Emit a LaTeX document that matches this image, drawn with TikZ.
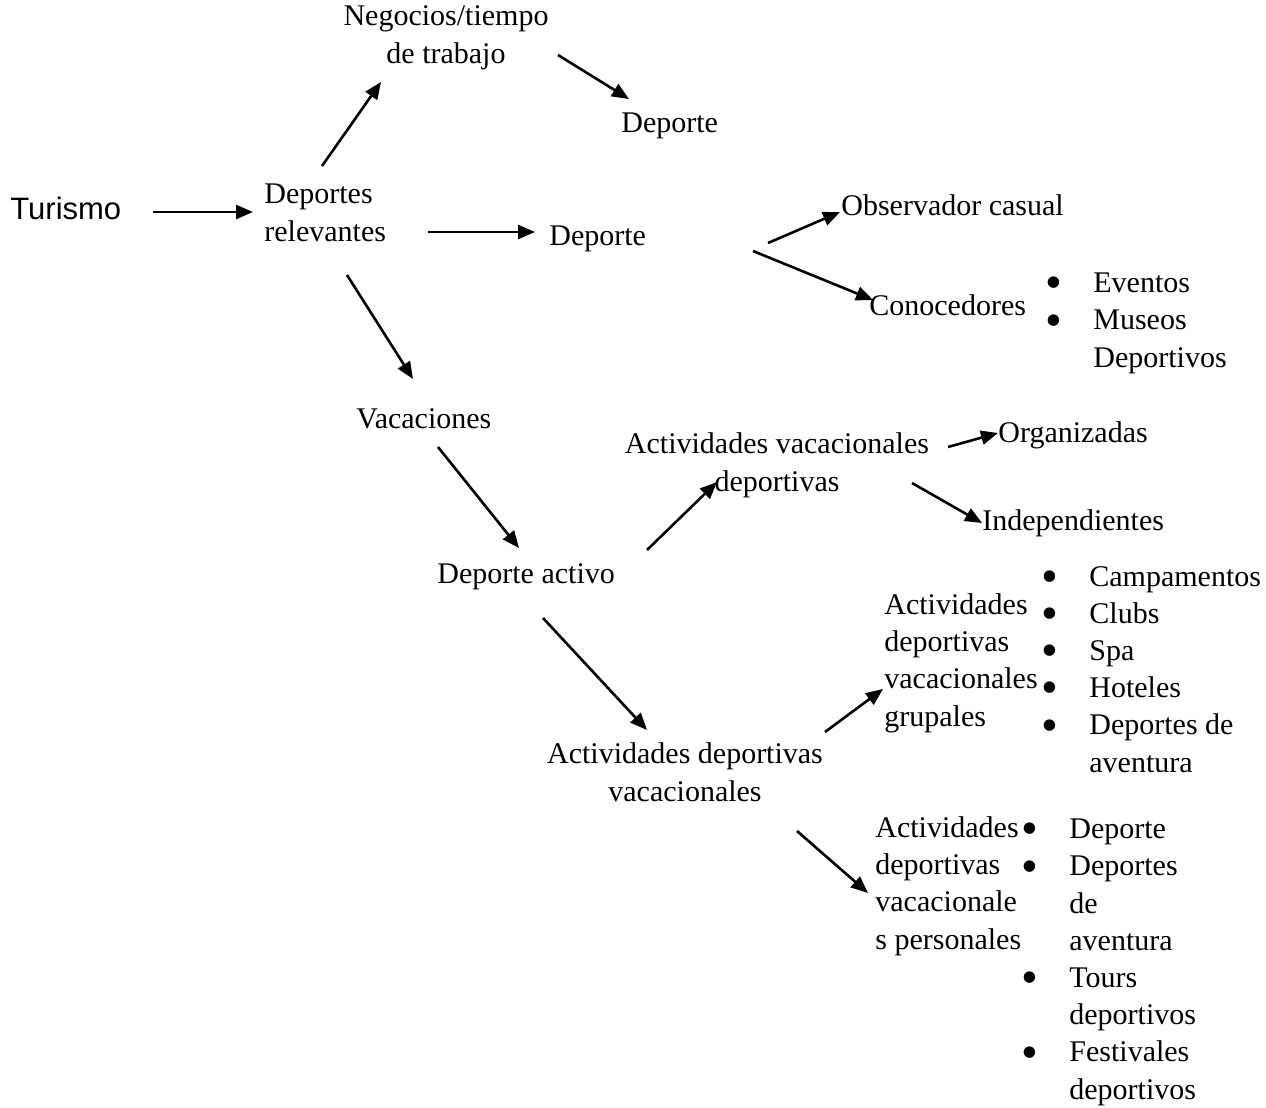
\documentclass[tikz,border=0pt]{standalone}
\usepackage{fontspec}
\setmainfont{Liberation Serif}
\newfontfamily\turfont{Liberation Sans}
\usetikzlibrary{arrows.meta}
\newcommand{\bul}{\makebox[24pt][l]{\raisebox{-3.1pt}{\scalebox{1.6}{\textbullet}}}}
\newcommand{\nobul}{\hspace*{24pt}}
\begin{document}
\begin{tikzpicture}[x=0.5pt,y=-0.5pt,font=\fontsize{15}{18.6}\selectfont,
  lbl/.style={inner sep=0pt,anchor=base west,align=left},
  ctr/.style={inner sep=0pt,anchor=base,align=center},
  arr/.style={line width=1.3pt,-{Triangle[length=8.5pt,width=7pt]}}]
  \useasboundingbox (0,0) rectangle (1266,1108);
  % first level
  \node[lbl,font=\turfont\fontsize{15.5}{18}\selectfont] (tur) at (10,219){Turismo};
  \node[lbl] (rel) at (264,241){Deportes\\relevantes};
  \node[ctr] (neg) at (446,63){Negocios/tiempo\\de trabajo};
  \node[lbl] (dtop) at (621,133){Deporte};
  \node[lbl] (dmid) at (549,245){Deporte};
  \node[lbl] (vac) at (356,428){Vacaciones};
  % spectator branch
  \node[lbl] (obs) at (841,215){Observador casual};
  \node[lbl] (con) at (869,315){Conocedores};
  \node[lbl] (conlist) at (1045,367){\bul Eventos\\\bul Museos\\\nobul Deportivos};
  % active branch
  \node[lbl] (act) at (437,583){Deporte activo};
  \node[ctr] (avd) at (777,491){Actividades vacacionales\\deportivas};
  \node[lbl] (org) at (998,442){Organizadas};
  \node[lbl] (ind) at (982,530){Independientes};
  \node[ctr] (adv) at (685,801){Actividades deportivas\\vacacionales};
  \node[lbl] (grp) at (884,726){Actividades\\deportivas\\vacacionales\\grupales};
  \node[lbl] (grplist) at (1041,772){\bul Campamentos\\\bul Clubs\\\bul Spa\\\bul Hoteles\\\bul Deportes de\\\nobul aventura};
  \node[lbl] (per) at (875,949){Actividades\\deportivas\\vacacionale\\s personales};
  \node[lbl] (perlist) at (1021,1099){\bul Deporte\\\bul Deportes\\\nobul de\\\nobul aventura\\\bul Tours\\\nobul deportivos\\\bul Festivales\\\nobul deportivos};
  % arrows
  \draw[arr] ([shift={(143,-7)}]tur.base west) -- ([shift={(-11,-29)}]rel.base west);
  \draw[arr] ([shift={(58,-75)}]rel.base west) -- ([shift={(-65,19)}]neg.base);
  \draw[arr] ([shift={(112,-8)}]neg.base) -- ([shift={(8,-34)}]dtop.base west);
  \draw[arr] ([shift={(164,-9)}]rel.base west) -- ([shift={(-14,-13)}]dmid.base west);
  \draw[arr] ([shift={(83,34)}]rel.base west) -- ([shift={(57,-49)}]vac.base west);
  \draw[arr] ([shift={(219,-2)}]dmid.base west) -- ([shift={(-1,-3)}]obs.base west);
  \draw[arr] ([shift={(204,6)}]dmid.base west) -- ([shift={(4,-15)}]con.base west);
  \draw[arr] ([shift={(82,19)}]vac.base west) -- ([shift={(82,-35)}]act.base west);
  \draw[arr] ([shift={(210,-33)}]act.base west) -- ([shift={(-60,-9)}]avd.base);
  \draw[arr] ([shift={(171,-44)}]avd.base) -- ([shift={(0,-9)}]org.base west);
  \draw[arr] ([shift={(135,-8)}]avd.base) -- ([shift={(0,-7)}]ind.base west);
  \draw[arr] ([shift={(106,35)}]act.base west) -- ([shift={(-38,-71)}]adv.base);
  \draw[arr] ([shift={(140,-69)}]adv.base) -- ([shift={(-1,-37)}]grp.base west);
  \draw[arr] ([shift={(112,30)}]adv.base) -- ([shift={(-7,-56)}]per.base west);
\end{tikzpicture}
\end{document}
